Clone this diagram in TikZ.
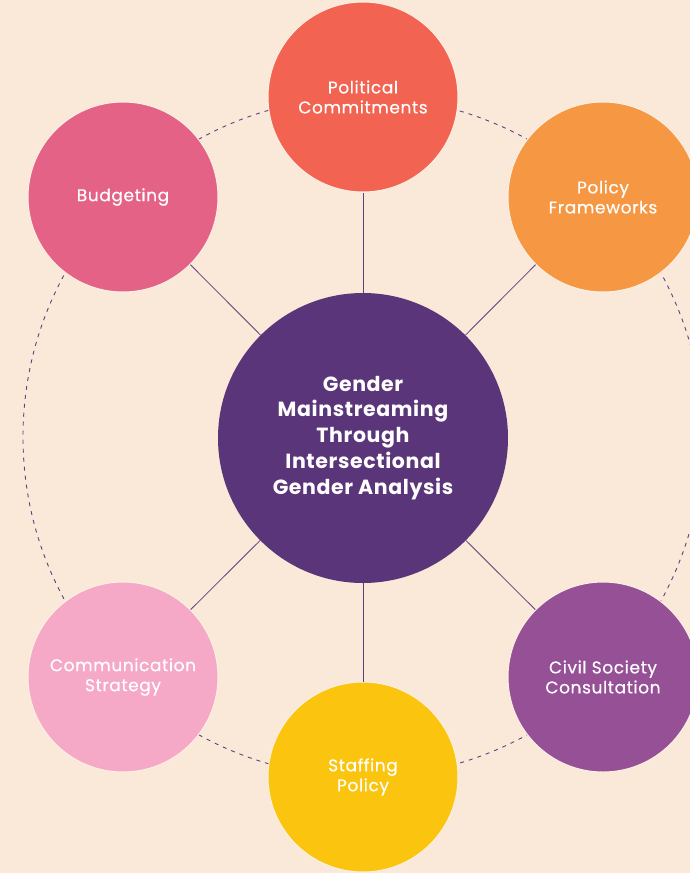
\documentclass[tikz,border=0pt]{standalone}
\usepackage{fontspec}
\setmainfont{Poppins}
\newfontfamily\outerfont{Poppins}[LetterSpace=3.5, FakeBold=0.35]
\newfontfamily\hubfont{Poppins}[LetterSpace=3]
\definecolor{bg}{HTML}{FAE9D9}
\definecolor{linec}{HTML}{5E3F80}
\definecolor{cmain}{HTML}{5A3579}
\definecolor{cpol}{HTML}{F26451}
\definecolor{cpf}{HTML}{F69744}
\definecolor{cbud}{HTML}{E56287}
\definecolor{ccom}{HTML}{F5A9C6}
\definecolor{cciv}{HTML}{965096}
\definecolor{csta}{HTML}{FBC50F}
\begin{document}
\begin{tikzpicture}[x=1pt,y=-1pt,
  outer/.style={circle, minimum size=190pt, inner sep=0pt, draw=bg!70!white, line width=1pt, text=white, align=center, font=\outerfont\fontsize{17}{20}\selectfont},
  hub/.style={circle, minimum size=290pt, inner sep=0pt, fill=cmain, text=white, align=center, font=\hubfont\fontsize{20.5}{25.9}\selectfont\bfseries},
  spoke/.style={draw=linec, line width=0.8pt},
  ring/.style={draw=linec, line width=0.9pt, dash pattern=on 4pt off 5pt}]
\fill[bg] (0,0) rectangle (690,873);
\useasboundingbox (0,0) rectangle (690,873);
\draw[ring] (363,437) circle (340pt);
\node[hub] (c) at (363,438) {Gender\\Mainstreaming\\Through\\Intersectional\\Gender Analysis};
\node[outer, fill=cpol] (pol) at (363,97) {Political\\Commitments};
\node[outer, fill=cpf] (pf) at (603,197) {Policy\\Frameworks};
\node[outer, fill=cbud] (bud) at (123,197) {Budgeting};
\node[outer, fill=ccom] (com) at (123,677) {Communication\\Strategy};
\node[outer, fill=cciv] (civ) at (603,677) {Civil Society\\Consultation};
\node[outer, fill=csta] (sta) at (363,777) {Staffing\\Policy};
\foreach \n in {pol,pf,bud,com,civ,sta}{\draw[spoke] (c) -- (\n);}
\end{tikzpicture}
\end{document}
